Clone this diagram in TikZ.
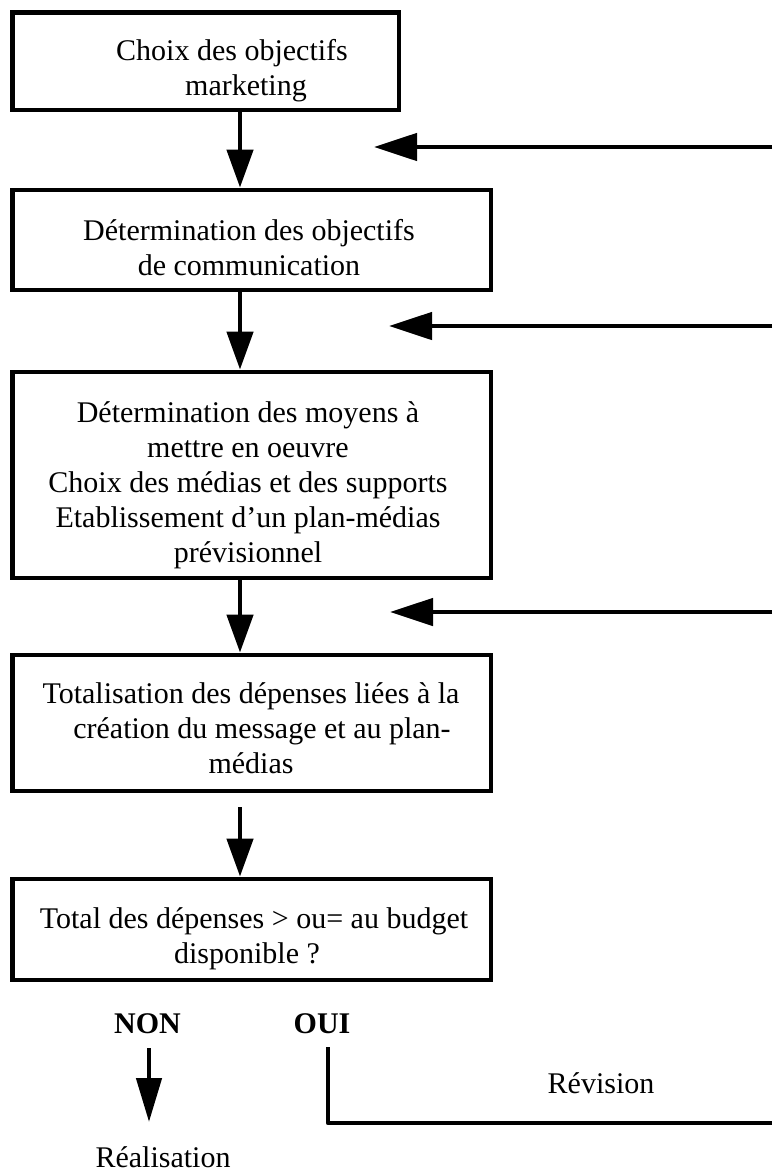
\documentclass[tikz,border=0pt]{standalone}
\usepackage{fontspec}
\setmainfont{Liberation Serif}
\usetikzlibrary{arrows.meta}
\begin{document}
\begin{tikzpicture}[x=1pt,y=-1pt,
  box/.style={draw, line width=4.8pt, rectangle, inner sep=0pt},
  txt/.style={align=center, inner sep=0pt, font=\fontsize{30}{35}\selectfont, anchor=base},
  btxt/.style={txt, font=\fontsize{30}{35}\selectfont\bfseries},
  varr/.style={line width=4.6pt, -{Triangle[length=38pt,width=26pt]}},
  harr/.style={line width=4.6pt, -{Triangle[length=43pt,width=27pt]}},
  plain/.style={line width=4.6pt, line join=round}
]
\useasboundingbox (0,0) rectangle (772,1172);

% boxes
\node[box, minimum width=386.5pt, minimum height=97.5pt] (b1) at (205.75,61.25) {};
\node[box, minimum width=478.5pt, minimum height=100pt] (b2) at (251.75,240) {};
\node[box, minimum width=478.5pt, minimum height=206pt] (b3) at (251.75,475) {};
\node[box, minimum width=478.5pt, minimum height=136pt] (b4) at (251.75,723) {};
\node[box, minimum width=478.5pt, minimum height=101pt] (b5) at (251.75,929.5) {};

% box texts (base anchor = baseline of the last line)
\node[txt] (t1) at (232,95) {Choix des objectifs\\\hspace*{28pt}marketing};
\node[txt] (t2) at (249,275) {Détermination des objectifs\\de communication};
\node[txt] (t3) at (248,562) {Détermination des moyens à\\mettre en oeuvre\\Choix des médias et des supports\\Etablissement d’un plan-médias\\prévisionnel};
\node[txt] (t4) at (251,773) {Totalisation des dépenses liées à la\\\hspace*{22pt}création du message et au plan-\\médias};
\node[txt] (t5) at (254,963) {Total des dépenses > ou= au budget\\disponible ?\hspace*{14pt}};

% main flow arrows
\coordinate (col) at (240,0);
\draw[varr] (b1.south -| col) -- (b2.north -| col);
\draw[varr] (b2.south -| col) -- (b3.north -| col);
\draw[varr] (b3.south -| col) -- (b4.north -| col);
\draw[varr, shorten <=14pt] (b4.south -| col) -- (b5.north -| col);

% feedback arrows from the right
\coordinate (r1) at (772,147); \coordinate (f1) at (374,147);
\coordinate (r2) at (772,326); \coordinate (f2) at (389,326);
\coordinate (r3) at (772,612); \coordinate (f3) at (390,612);
\draw[harr] (r1) -- (f1);
\draw[harr] (r2) -- (f2);
\draw[harr] (r3) -- (f3);

% decision outcomes
\node[btxt] (non) at (147.5,1033) {NON};
\node[btxt] (oui) at (322,1033) {OUI};
\node[txt] (real) at (163,1167) {Réalisation};
\node[txt] (rev) at (601,1093) {Révision};

\coordinate (n1) at (149,1048); \coordinate (n2) at (149,1122);
\draw[line width=4.6pt, -{Triangle[length=44pt,width=25pt]}] (n1) -- (n2);

\coordinate (o1) at (328,1047); \coordinate (o3) at (772,1123);
\draw[plain] (o1) |- (o3);
\end{tikzpicture}
\end{document}
